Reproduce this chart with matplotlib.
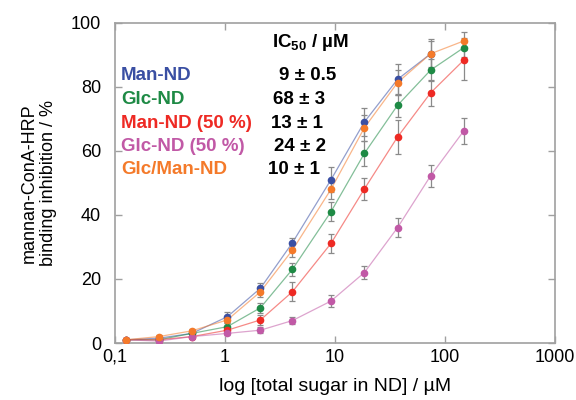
import matplotlib
matplotlib.use('Agg')
import matplotlib.pyplot as plt
import numpy as np

plt.rcParams['font.family'] = ['Liberation Sans', 'DejaVu Sans']
plt.rcParams['mathtext.fontset'] = 'custom'
plt.rcParams['mathtext.rm'] = 'Liberation Sans'
plt.rcParams['mathtext.bf'] = 'Liberation Sans:bold'

# concentration of total sugar in ND / uM
conc = [0.125, 0.25, 0.5, 1.05, 2.1, 4.1, 9.2, 18.5, 37, 74, 148]

# inhibition / %
man_nd = [1, 1.5, 3, 8.2, 17.1, 31.3, 51, 69, 82.3, 90.3, np.nan]
glc_nd = [1, 1, 3, 5.1, 11, 23, 41, 59.2, 74.2, 85.2, 92.2]
man_nd50 = [1, 1, 2, 4, 7.2, 16, 31.1, 48.1, 64.3, 78.1, 88.3]
glc_nd50 = [1, 0.6, 2, 3, 4, 7, 13.1, 22, 36, 52.2, 66.2]
glcman_nd = [1, 2, 3.8, 7.2, 16, 29, 48, 67.2, 81.3, 90.3, 94.3]

# error bars
man_nd_err = [0, 0, 0, 1.5, 1.5, 1.5, 4, 4.5, 4.8, 4, np.nan]
glc_nd_err = [0, 0, 0.5, 1, 1.5, 2, 3, 4, 3.6, 3.5, 3]
man_nd50_err = [0, 0, 0.5, 1, 1.5, 3, 3, 3.5, 5.3, 4, 6.2]
glc_nd50_err = [0, 0.5, 0.5, 0.5, 1, 1, 2, 2, 3, 3.5, 4]
glcman_nd_err = [0.5, 0.5, 0.5, 1, 1.5, 2, 3, 4, 4, 4.6, 2.7]

names = ['Man-ND', 'Glc-ND', 'Man-ND (50 %)', 'Glc-ND (50 %)', 'Glc/Man-ND']
ic50 = ['9 \u00b1 0.5', '68 \u00b1 3', '13 \u00b1 1', '24 \u00b1 2', '10 \u00b1 1']
colors = ['#3a4fa3', '#1e8a45', '#ee2a24', '#c159a6', '#f47a2a']

xticks = [0.1, 1, 10, 100, 1000]
xticklabels = ['0,1', '1', '10', '100', '1000']
yticks = [0, 20, 40, 60, 80, 100]

series = [man_nd, glc_nd, man_nd50, glc_nd50, glcman_nd]
errors = [man_nd_err, glc_nd_err, man_nd50_err, glc_nd50_err, glcman_nd_err]

fig = plt.figure(figsize=(5.76, 4.0), dpi=100)
ax = fig.add_axes([115 / 576, 57 / 400, 440 / 576, 320.3 / 400])

for y, e, c in zip(series, errors, colors):
    ax.plot(conc, y, '-', color=c, lw=0.9, alpha=0.55, zorder=1)
    ax.errorbar(conc, y, yerr=e, fmt='none', ecolor='#8a8a8a', elinewidth=0.9,
                capsize=2.5, capthick=0.9, zorder=2)
    ax.plot(conc, y, 'o', color=c, ms=5.5, mec='none', zorder=3)

ax.set_xscale('log')
ax.set_xlim(0.1, 1000)
ax.set_ylim(0, 100)
ax.set_xticks(xticks)
ax.set_xticklabels(xticklabels)
ax.xaxis.set_minor_locator(matplotlib.ticker.NullLocator())
ax.set_yticks(yticks)

for s in ax.spines.values():
    s.set_color('#a0a0a0')
    s.set_linewidth(1.2)
ax.tick_params(direction='in', length=5, width=1, color='#a0a0a0',
               top=True, right=True, labelsize=13)
ax.tick_params(axis='y', pad=10)
ax.tick_params(axis='x', pad=4)

ax.set_xlabel('log [total sugar in ND] / \u00b5M', fontsize=14, labelpad=9)
ax.set_ylabel('mannan-ConA-HRP\nbinding inhibition / %', fontsize=13, labelpad=10)

# IC50 table drawn as text
def fx(px):
    return px / 576

def fy(py):
    return 1 - py / 400

fig.text(fx(272), fy(46.7), 'IC$_{\\mathbf{50}}$ / \u00b5M',
         fontsize=13.5, fontweight='bold', va='baseline')
row_base = [80, 103.5, 127.5, 151, 174.5]
val_left = [279, 273, 271, 274, 268]
for name, val, c, yb, xl in zip(names, ic50, colors, row_base, val_left):
    fig.text(fx(121), fy(yb), name, color=c, fontsize=13.5, fontweight='bold', va='baseline')
    fig.text(fx(xl), fy(yb), val, color='black', fontsize=13.5, fontweight='bold', va='baseline')

fig.savefig('out.png', dpi=100)
